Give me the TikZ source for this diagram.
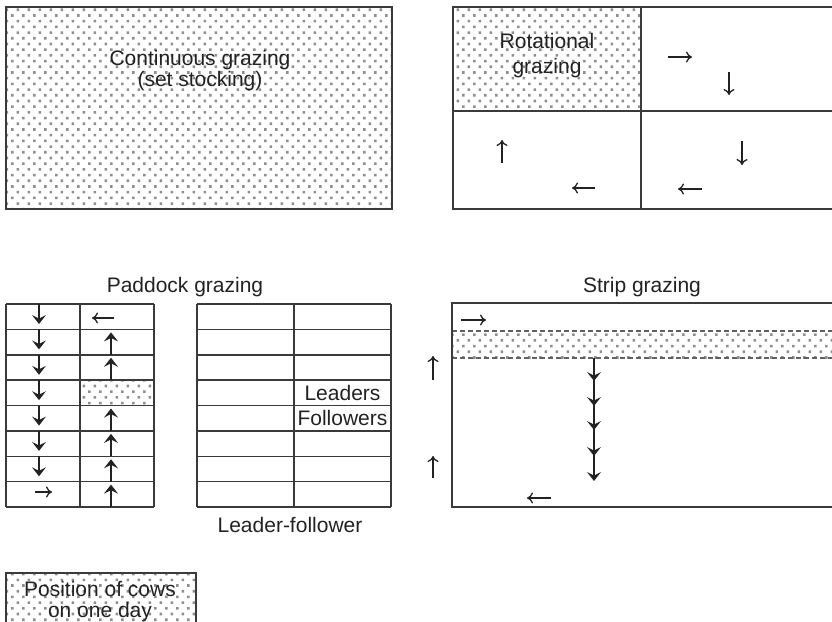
\documentclass[tikz,border=0pt]{standalone}
\usepackage{fontspec}
\setmainfont{Liberation Sans}
\usetikzlibrary{patterns,arrows.meta}
\pgfdeclarepatternformonly{cowdots}{\pgfqpoint{-1pt}{-1pt}}{\pgfqpoint{12pt}{12.4pt}}{\pgfqpoint{11pt}{11.4pt}}{%
  \pgfpathrectangle{\pgfqpoint{0pt}{0pt}}{\pgfqpoint{2.6pt}{2.6pt}}%
  \pgfpathrectangle{\pgfqpoint{5.5pt}{5.7pt}}{\pgfqpoint{2.6pt}{2.6pt}}%
  \pgfusepath{fill}}
\definecolor{ink}{HTML}{222222}
\definecolor{rule}{HTML}{3A3A3A}
\definecolor{dotc}{HTML}{8E8E8E}
\tikzset{
  lbl/.style={font=\fontsize{21}{23}\selectfont, text=ink, inner sep=0pt, align=center},
  boxline/.style={draw=rule, line width=1.2pt},
  gridline/.style={draw=rule, line width=1.5pt},
  dotted area/.style={pattern=cowdots, pattern color=dotc},
  thinarrow/.style={draw=ink, line width=1.3pt, -{To[length=6pt,width=11pt,line width=1.3pt]}},
  shaft/.style={draw=ink, line width=1.4pt},
  bandline/.style={draw=gray!75!black, line width=1.3pt, dash pattern=on 5pt off 3pt},
  dhead/.pic={\fill[ink] (0,0) -- (-7,-9) -- (0,-5.5) -- (7,-9) -- cycle;},
}
\begin{document}
\begin{tikzpicture}[x=1pt,y=-1pt]
\useasboundingbox (0,0) rectangle (832,621);
\clip (0,0) rectangle (832,621);

% ---------- Continuous grazing ----------
\fill[dotted area] (6,7) rectangle (392,209);
\draw[boxline] (6,7) rectangle (392,209);
\node[lbl, anchor=base] (cont1) at (200,65) {Continuous grazing};
\node[lbl, anchor=base] (cont2) at (200,86) {(set stocking)};

% ---------- Rotational grazing ----------
\fill[dotted area] (453,7) rectangle (641,111);
\draw[boxline] (453,7) rectangle (845,209);
\draw[boxline] (641,7) -- (641,209);
\draw[boxline] (453,111) -- (845,111);
\node[lbl, anchor=base] (rot1) at (547,48) {Rotational};
\node[lbl, anchor=base] (rot2) at (547,73) {grazing};
\draw[thinarrow] (668,57) -- (692,57);
\draw[thinarrow] (729,72) -- (729,95);
\draw[thinarrow] (502,163) -- (502,140);
\draw[thinarrow] (595,188) -- (572,188);
\draw[thinarrow] (742,141) -- (742,165);
\draw[thinarrow] (702,189) -- (678,189);

% ---------- Paddock grazing ----------
\node[lbl] (padtitle) at (185,287) {Paddock grazing};
\fill[dotted area] (80,380.125) rectangle (154,405.5);
\foreach \i in {0,...,8} {
  \pgfmathsetmacro{\yy}{304+\i*25.375}
  \draw[gridline] (6,\yy) -- (154,\yy);
  \draw[gridline] (197,\yy) -- (391,\yy);
}
\draw[gridline] (6,304) -- (6,507);
\draw[gridline] (80,304) -- (80,507);
\draw[gridline] (154,304) -- (154,507);
\draw[gridline] (197,304) -- (197,507);
\draw[gridline] (294,304) -- (294,507);
\draw[gridline] (391,304) -- (391,507);
% down arrows left column
\foreach \i in {0,...,6} {
  \pgfmathsetmacro{\ya}{304+\i*25.375}
  \pgfmathsetmacro{\yb}{304+\i*25.375+20}
  \draw[shaft] (39,\ya) -- (39,\yb-3);
  \pic at (39,\yb) {dhead};
}
% up arrows right column
\foreach \i in {1,2,4,5,6,7} {
  \pgfmathsetmacro{\ya}{304+(\i+1)*25.375}
  \pgfmathsetmacro{\yb}{304+\i*25.375+3}
  \draw[shaft] (111,\ya) -- (111,\yb+3);
  \pic[rotate=180] at (111,\yb) {dhead};
}
\draw[thinarrow] (114,318) -- (92,318);
\draw[thinarrow] (35,492) -- (52,492);
\node[lbl] (leaders) at (342.5,392.8) {Leaders};
\node[lbl] (followers) at (342.5,418.2) {Followers};
\node[lbl] (leadfol) at (290,525) {Leader-follower};

% ---------- Strip grazing ----------
\node[lbl] (striptitle) at (642,287) {Strip grazing};
\fill[dotted area] (452,331) rectangle (845,358);
\draw[bandline] (452,331) -- (845,331);
\draw[bandline] (452,358) -- (845,358);
\draw[boxline] (845,303) -- (452,303) -- (452,507) -- (845,507);
\draw[thinarrow] (461,320) -- (486,320);
\draw[thinarrow] (433,380) -- (433,356);
\draw[thinarrow] (433,478) -- (433,456);
\draw[thinarrow] (551,498) -- (527,498);
\draw[shaft] (594,358) -- (594,478);
\foreach \t in {381,406,430,456,481} {
  \pic at (594,\t) {dhead};
}

% ---------- Legend ----------
\fill[dotted area] (6,573) rectangle (196,630);
\draw[boxline] (6,630) -- (6,573) -- (196,573) -- (196,630);
\node[lbl, anchor=base] (leg1) at (100,596) {Position of cows};
\node[lbl, anchor=base] (leg2) at (100,617) {on one day};
\end{tikzpicture}
\end{document}
